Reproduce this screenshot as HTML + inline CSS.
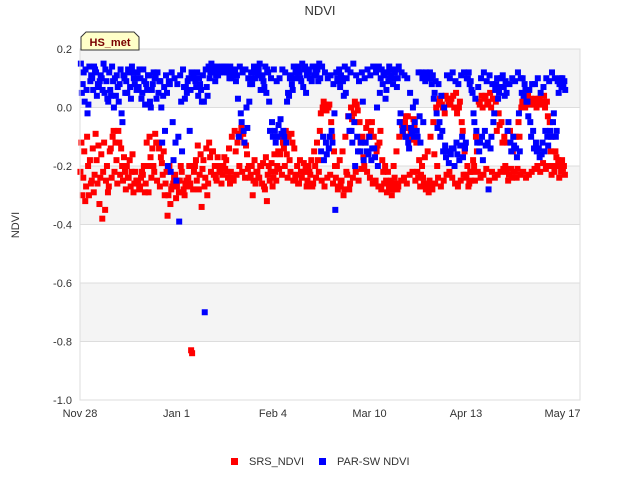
<!DOCTYPE html>
<html><head><meta charset="utf-8"><style>
body{margin:0;background:#fff;font-family:"Liberation Sans",sans-serif}
</style></head><body>
<svg id="chart" width="640" height="480" xmlns="http://www.w3.org/2000/svg" style="display:block">
<text x="320" y="15" text-anchor="middle" font-size="13" fill="#333">NDVI</text>
<g id="bands"></g>
<g id="axes"></g>
<g id="marks"></g>
<rect x="80" y="49" width="500" height="351" fill="none" stroke="#ddd"/>
<text transform="translate(19,225) rotate(-90)" text-anchor="middle" font-size="11" fill="#333">NDVI</text>
<g>
<path d="M81,50 L81,37 L86,32 L134,32 L139,37 L139,50 Z" fill="#ffffc8" stroke="#333"/>
<text x="110" y="46" text-anchor="middle" font-size="11" font-weight="bold" fill="#7a0000">HS_met</text>
</g>
<g>
<rect x="231" y="458" width="7" height="7" fill="#f00"/>
<text x="249" y="465" font-size="11" fill="#333">SRS_NDVI</text>
<rect x="319" y="458" width="7" height="7" fill="#00f"/>
<text x="337" y="465" font-size="11" fill="#333">PAR-SW NDVI</text>
</g>
</svg>
<script>
const yTicks=[0.2,0.0,-0.2,-0.4,-0.6,-0.8,-1.0];
const yTickLabels=["0.2","0.0","-0.2","-0.4","-0.6","-0.8","-1.0"];
const xTickDays=[0,34,68,102,136,170];
const xTickLabels=["Nov 28","Jan 1","Feb 4","Mar 10","Apr 13","May 17"];
const srs1=[-.22,-.24,-.27,-.3,-.25,-.23,-.26,-.24,-.22,-.25,-.27,-.24,-.22,-.26,-.23,-.25,-.28,-.24,-.22,-.26,-.25,-.27,-.23,-.26,-.29,-.24,-.22,-.25,-.27,-.23,-.26,-.3,-.28,-.24,-.27,-.25,-.29,-.26,-.24,-.83,-.22,-.25,-.23,-.21,-.24,-.26,-.22,-.23,-.25,-.22,-.23,-.21,-.24,-.22,-.25,-.23,-.2,-.22,-.24,-.21,-.23,-.25,-.22,-.24,-.26,-.28,-.23,-.22,-.24,-.25,-.21,-.23,-.2,-.24,-.22,-.25,-.23,-.26,-.24,-.22,-.25,-.23,-.26,-.24,-.22,-.25,-.27,-.24,-.23,-.26,-.24,-.27,-.25,-.28,-.23,-.26,-.24,-.22,-.25,-.21,-.2,-.22,-.24,-.26,-.25,-.27,-.28,-.26,-.29,-.27,-.28,-.26,-.27,-.25,-.24,-.26,-.23,-.22,-.25,-.24,-.23,-.26,-.27,-.25,-.28,-.26,-.24,-.27,-.25,-.23,-.22,-.24,-.26,-.27,-.25,-.23,-.24,-.26,-.22,-.25,-.22,-.24,-.23,-.21,-.25,-.22,-.24,-.23,-.22,-.21,-.22,-.23,-.24,-.22,-.21,-.23,-.22,-.24,-.23,-.22,-.21,-.2,-.22,-.19,-.21,-.2,-.23,-.22,-.2,-.19,-.21];
const srs2=[-.12,-.15,-.1,-.18,-.14,-.09,-.13,-.16,-.12,-.2,-.15,-.1,-.12,-.08,-.14,-.17,-.2,-.18,-.16,-.22,-.26,-.24,-.2,-.12,-.1,-.14,-.09,-.12,-.17,-.15,-.22,-.2,-.27,-.23,-.25,-.2,-.28,-.25,-.2,-.84,-.2,-.13,-.16,-.18,-.14,-.12,-.15,-.2,-.17,-.22,-.2,-.18,-.14,-.1,-.08,-.12,-.1,-.09,-.13,-.2,-.2,-.18,-.22,-.2,-.19,-.17,-.2,-.19,-.16,-.2,-.16,-.12,-.08,-.1,-.09,-.14,-.2,-.18,-.22,-.2,-.2,-.18,-.15,-.12,-.08,0,.01,0,-.05,-.15,-.2,-.18,-.15,-.1,-.03,0,-.02,.01,-.05,-.1,-.12,-.05,-.08,-.1,-.15,-.12,-.18,-.2,-.22,-.25,-.2,-.15,-.1,-.06,-.05,-.03,-.08,-.04,-.12,-.18,-.2,-.17,-.15,-.1,-.05,0,.02,.01,-.02,.03,.02,.04,.05,0,-.05,-.15,-.2,-.22,-.18,-.1,.02,.04,.03,.01,.05,.03,.02,-.02,-.05,-.1,-.12,-.08,-.15,-.1,-.05,0,.02,.03,.01,.02,.03,.02,.01,.04,.02,-.05,-.1,-.15,-.18,-.22,-.2];
const srs3=[-.3,-.32,-.2,-.26,-.29,-.18,-.33,-.38,-.35,-.29,-.14,-.08,-.18,-.12,-.2,-.22,-.24,-.27,-.29,-.25,-.28,-.22,-.29,-.2,-.17,-.2,-.12,-.14,-.19,-.3,-.37,-.33,-.26,-.31,-.29,-.22,-.3,-.27,-.26,-.28,-.18,-.28,-.34,-.27,-.3,-.17,-.15,-.24,-.2,-.26,-.17,-.22,-.26,-.24,-.15,-.09,-.07,-.12,-.16,-.24,-.3,-.26,-.24,-.2,-.27,-.32,-.25,-.27,-.22,-.15,-.1,-.14,-.16,-.18,-.12,-.24,-.26,-.22,-.19,-.27,-.22,-.27,-.2,-.18,-.02,.02,-.01,.01,-.1,-.2,-.28,-.26,-.3,-.22,-.28,-.04,.02,-.01,-.12,-.17,-.07,-.1,-.05,-.14,-.13,-.08,-.22,-.25,-.27,-.3,-.24,-.28,-.05,-.09,-.03,-.07,-.11,-.06,-.22,-.27,-.24,-.28,-.29,-.27,-.16,-.2,.03,0,.04,.01,.03,0,-.02,.02,-.08,-.23,-.27,-.25,-.2,-.15,.01,0,.04,.02,0,.03,-.08,-.06,-.12,-.2,-.25,-.21,-.22,-.24,-.1,.02,0,.04,.03,.01,0,.03,.02,0,-.03,-.15,-.2,-.17,-.24,-.18,-.23];
const par1=[.15,.12,.06,.14,.1,.13,.08,.11,.15,.09,.12,.14,.1,.07,.13,.11,.09,.12,.14,.08,.12,.1,.13,.08,.11,.06,.1,.12,.09,.04,.11,.09,.12,.1,.08,.11,.13,.07,.1,.12,.1,.12,.08,.11,.13,.14,.15,.13,.14,.12,.13,.14,.12,.1,.13,.11,.14,.12,.13,.1,.12,.14,.13,.15,.11,.14,.12,.1,.13,.09,.1,.13,.12,.05,.11,.14,.13,.12,.15,.14,.13,.1,.14,.12,.15,.14,.12,.1,.11,.08,.12,.13,.1,.14,.13,.12,.15,.11,.09,.12,.1,.13,.11,.14,.12,.14,.13,.11,.12,.1,.08,.13,.14,.12,.11,.1,.05,0,.02,.12,.12,.11,.1,.12,.11,.09,.08,.04,0,.11,.1,.12,.09,.08,.11,.12,.1,.08,.05,.03,.07,.1,.12,.09,.11,.08,.06,.03,.1,.07,.05,.08,.1,.09,.12,.1,.04,.02,.06,.08,.08,.1,.05,.07,.1,.09,.12,.1,.09,.1,.08];
const par2=[.05,.02,-.02,.09,.06,.12,.07,.1,.05,.03,.06,.09,.04,.02,-.02,.1,.05,.07,.12,.1,.07,.03,.09,.06,.02,.08,.11,.05,0,.07,.05,.08,-.05,-.12,-.1,.02,.07,.05,-.08,.1,.09,.04,.06,.02,.07,.1,.12,.09,.11,.13,.14,.12,.1,.13,.12,.03,-.02,-.08,0,.02,.08,.1,.11,.06,.09,.05,.02,-.05,-.08,-.1,-.04,-.08,-.12,.04,.08,.1,.12,.1,.07,.05,.12,.09,.11,.13,.1,-.1,-.12,-.14,-.08,-.02,.1,.07,.09,.05,-.03,-.08,-.05,-.1,-.15,.02,-.12,-.16,-.18,-.14,0,.05,.08,.03,.09,.11,.1,.07,-.05,-.08,-.1,-.12,-.07,-.1,-.08,-.03,.1,.09,.11,.1,.03,-.02,-.05,-.08,-.13,-.15,-.16,-.14,-.12,-.18,-.1,-.14,.1,.09,-.02,-.08,-.15,-.1,-.08,-.12,-.14,-.05,.08,.05,.1,.04,-.08,-.12,-.1,-.14,-.02,.05,.08,.02,-.05,-.08,-.12,-.14,-.16,-.15,-.1,-.08,-.05,-.1,.05,.07,.09];
const par3=[.08,.13,.01,.11,.14,.04,.09,.06,.13,.02,.04,0,.11,.08,-.05,.05,.13,.03,.1,.06,.13,.05,.01,.11,0,.12,.03,.09,-.12,-.08,-.2,-.22,-.18,-.25,-.39,-.15,.03,.09,.06,.11,.07,.1,.02,-.7,.04,.12,.14,.11,.13,.14,.12,.13,.14,.11,.09,-.1,-.05,-.12,-.07,.08,.1,.12,.13,.1,.07,.13,-.08,-.1,-.12,-.06,-.09,-.1,.02,.1,.06,.12,.14,.09,.13,.11,.1,.14,.12,.09,-.15,-.18,-.16,-.1,-.12,-.35,.09,.11,.04,.1,-.08,-.12,-.2,-.15,-.12,-.18,-.15,-.1,-.14,-.17,-.2,.1,.12,.06,.14,.13,.12,.1,-.02,-.07,-.1,-.14,-.09,-.05,-.1,-.12,-.05,.12,.1,.08,.05,-.07,-.1,-.15,-.17,-.19,-.14,-.2,-.16,-.13,-.17,-.12,.12,.06,-.05,-.12,-.12,-.18,-.13,-.28,-.1,-.02,.1,.07,.11,.09,-.05,-.15,-.13,-.17,-.15,.1,.06,-.03,-.1,-.14,-.15,-.17,-.12,-.08,-.13,-.1,-.02,-.08,.08,.1,.06];

const NS="http://www.w3.org/2000/svg";
const X0=80,PXD=(562.5-80)/170;
function xs(d){return X0+d*PXD;}
function ys(v){return 49+(0.2-v)*(351/1.2);}
const bands=document.getElementById('bands'),axes=document.getElementById('axes'),marks=document.getElementById('marks');
for(let i=0;i<yTicks.length-1;i++){
  if(i%2===0){
    const r=document.createElementNS(NS,'rect');
    
    
    r.setAttribute('x',80);r.setAttribute('width',500);
    r.setAttribute('y',ys(yTicks[i]));r.setAttribute('height',ys(yTicks[i+1])-ys(yTicks[i]));
    r.setAttribute('fill','#f4f4f4');bands.appendChild(r);
  }
}
yTicks.forEach((v,i)=>{
  const l=document.createElementNS(NS,'line');
  
  
  l.setAttribute('x1',80);l.setAttribute('x2',580);l.setAttribute('y1',ys(v));l.setAttribute('y2',ys(v));
  l.setAttribute('stroke','#ddd');axes.appendChild(l);
  const t=document.createElementNS(NS,'text');
  
  
  t.setAttribute('x',72);t.setAttribute('y',ys(v)+4);t.setAttribute('text-anchor','end');
  t.setAttribute('font-size','11');t.setAttribute('fill','#333');t.textContent=yTickLabels[i];axes.appendChild(t);
});
xTickDays.forEach((d,i)=>{
  const t=document.createElementNS(NS,'text');
  
  
  t.setAttribute('x',xs(d));t.setAttribute('y',417);t.setAttribute('text-anchor','middle');
  t.setAttribute('font-size','11');t.setAttribute('fill','#333');t.textContent=xTickLabels[i];axes.appendChild(t);
});
function plot(arr,off,color,name){
  arr.forEach((v,d)=>{
    const r=document.createElementNS(NS,'rect');
    
    
    r.setAttribute('x',xs(d+off)-3);r.setAttribute('y',ys(v)-3);
    r.setAttribute('width',6);r.setAttribute('height',6);r.setAttribute('fill',color);
    marks.appendChild(r);
  });
}
plot(srs1,0.15,'#f00','srs-point');plot(srs2,0.5,'#f00','srs-point');plot(srs3,0.85,'#f00','srs-point');
plot(par1,0.3,'#00f','par-point');plot(par2,0.65,'#00f','par-point');plot(par3,0.95,'#00f','par-point');
</script>
</body></html>
